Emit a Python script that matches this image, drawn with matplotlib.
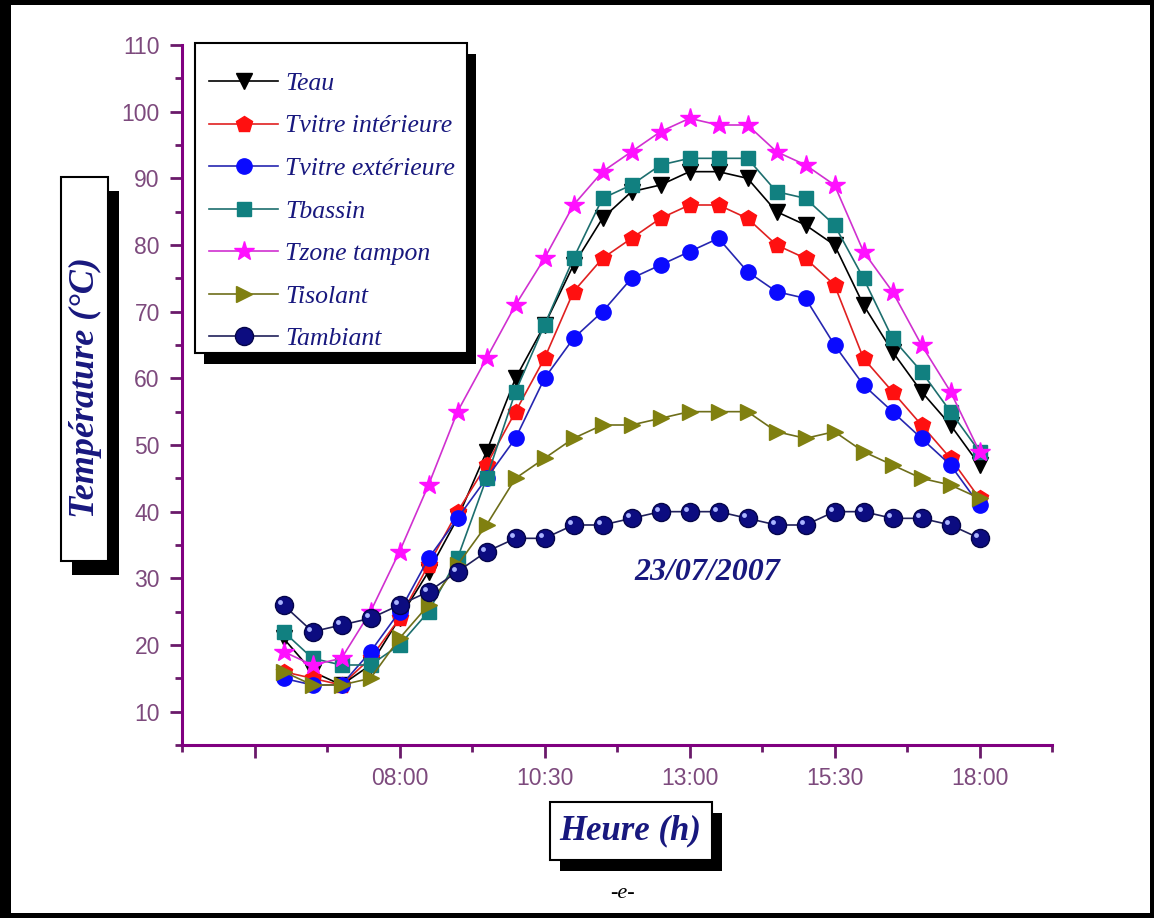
import matplotlib
matplotlib.use("Agg")
import matplotlib.pyplot as plt
from matplotlib.patches import Rectangle
from matplotlib.transforms import ScaledTranslation
from matplotlib.font_manager import FontProperties

# ---- data: temperatures recorded on 23/07/2007, every half hour ----
hours = [6.0, 6.5, 7.0, 7.5, 8.0, 8.5, 9.0, 9.5, 10.0, 10.5, 11.0, 11.5, 12.0,
         12.5, 13.0, 13.5, 14.0, 14.5, 15.0, 15.5, 16.0, 16.5, 17.0, 17.5, 18.0]

t_eau = [21, 16, 14, 17, 24, 31, 39, 49, 60, 68, 77, 84, 88,
         89, 91, 91, 90, 85, 83, 80, 71, 64, 58, 53, 47]
t_vitre_int = [16, 15, 14, 18, 24, 32, 40, 47, 55, 63, 73, 78, 81,
               84, 86, 86, 84, 80, 78, 74, 63, 58, 53, 48, 42]
t_vitre_ext = [15, 14, 14, 19, 25, 33, 39, 45, 51, 60, 66, 70, 75,
               77, 79, 81, 76, 73, 72, 65, 59, 55, 51, 47, 41]
t_bassin = [22, 18, 17, 17, 20, 25, 33, 45, 58, 68, 78, 87, 89,
            92, 93, 93, 93, 88, 87, 83, 75, 66, 61, 55, 49]
t_zone = [19, 17, 18, 25, 34, 44, 55, 63, 71, 78, 86, 91, 94,
          97, 99, 98, 98, 94, 92, 89, 79, 73, 65, 58, 49]
t_isolant = [16, 14, 14, 15, 21, 26, 32, 38, 45, 48, 51, 53, 53,
             54, 55, 55, 55, 52, 51, 52, 49, 47, 45, 44, 42]
t_ambiant = [26, 22, 23, 24, 26, 28, 31, 34, 36, 36, 38, 38, 39,
             40, 40, 40, 39, 38, 38, 40, 40, 39, 39, 38, 36]

series_labels = ["Teau", "Tvitre intérieure", "Tvitre extérieure", "Tbassin",
                 "Tzone tampon", "Tisolant", "Tambiant"]

x_major = [5.5, 8.0, 10.5, 13.0, 15.5, 18.0]
x_major_labels = ["", "08:00", "10:30", "13:00", "15:30", "18:00"]
y_major = [10, 20, 30, 40, 50, 60, 70, 80, 90, 100, 110]

# ---- figure ----
W, H = 1154, 918
fig = plt.figure(figsize=(W / 100, H / 100), dpi=100, facecolor="black")


def fig_rect(x0, y0, x1, y1, **kw):
    """Rectangle given in pixel coordinates measured from the top-left corner."""
    r = Rectangle((x0 / W, 1 - y1 / H), (x1 - x0) / W, (y1 - y0) / H,
                  transform=fig.transFigure, **kw)
    fig.add_artist(r)
    return r


# white page inside the thick black frame
fig_rect(11, 5, 1150, 913, facecolor="white", edgecolor="none", zorder=-1)

purple = "#800080"
tick_purple = "#6a1a6a"
label_purple = "#7d4a7d"
navy = "#18187e"

ax = fig.add_axes([182 / W, 1 - 745 / H, (1052 - 182) / W, (745 - 45) / H])
ax.set_facecolor("none")
ax.set_xlim(4.25, 19.25)
ax.set_ylim(5, 110)

styles = [
    dict(y=t_eau, color="black", marker="v", mfc="black", mec="black", ms=11),
    dict(y=t_vitre_int, color="#e02020", marker="p", mfc="#ff1010", mec="#ff1010", ms=12),
    dict(y=t_vitre_ext, color="#2626b0", marker="o", mfc="#0a0aff", mec="#0a0aff", ms=11),
    dict(y=t_bassin, color="#1d6e6e", marker="s", mfc="#118080", mec="#118080", ms=10),
    dict(y=t_zone, color="#d030d0", marker="*", mfc="#ff10ff", mec="#ff10ff", ms=15),
    dict(y=t_isolant, color="#6e6e1a", marker=">", mfc="#808010", mec="#808010", ms=12),
    dict(y=t_ambiant, color="#20205a", marker="o", mfc="#0c0c80", mec="#05054a", ms=13),
]

handles = []
for lab, st in zip(series_labels, styles):
    (ln,) = ax.plot(hours, st["y"], color=st["color"], lw=1.2, marker=st["marker"],
                    markerfacecolor=st["mfc"], markeredgecolor=st["mec"],
                    markersize=st["ms"], markeredgewidth=1.0, label=lab, clip_on=False)
    handles.append(ln)

# glossy highlight on the ambient-temperature spheres
shine = ax.transData + ScaledTranslation(-2.2 / 72, 2.2 / 72, fig.dpi_scale_trans)
ax.plot(hours, t_ambiant, linestyle="none", marker="o", markersize=3.5,
        markerfacecolor="#aab4ff", markeredgecolor="none", transform=shine, clip_on=False)

# ---- axes styling ----
for side in ("top", "right"):
    ax.spines[side].set_visible(False)
for side in ("left", "bottom"):
    ax.spines[side].set_color(purple)
    ax.spines[side].set_linewidth(2.2)

ax.set_xticks(x_major)
ax.set_xticklabels(x_major_labels)
ax.set_xticks([4.25, 6.75, 9.25, 11.75, 14.25, 16.75, 19.25], minor=True)
ax.set_yticks(y_major)
ax.set_yticks([5, 15, 25, 35, 45, 55, 65, 75, 85, 95, 105], minor=True)

tick_font = FontProperties(family="Liberation Sans", size=16.5)
ax.tick_params(which="major", direction="out", length=9, width=2.0, color=tick_purple,
               labelcolor=label_purple, pad=7)
ax.tick_params(which="minor", direction="out", length=5, width=2.0, color=tick_purple)
for t in ax.get_xticklabels() + ax.get_yticklabels():
    t.set_fontproperties(tick_font)

# ---- legend with drop shadow ----
fig_rect(204, 54, 476, 364, facecolor="black", edgecolor="none", zorder=3)
fig_rect(195, 43, 467, 353, facecolor="white", edgecolor="black", linewidth=1.5, zorder=4)
leg_font = FontProperties(family="Liberation Serif", style="italic", size=18.5)
leg = fig.legend(handles=handles, loc="upper left",
                 bbox_to_anchor=(209 / W, 1 - 72 / H), bbox_transform=fig.transFigure,
                 frameon=False, prop=leg_font, handlelength=2.7, handletextpad=0.27,
                 labelspacing=0.76, borderpad=0, borderaxespad=0)
leg.set_zorder(6)
for t in leg.get_texts():
    t.set_color(navy)

# ---- y-axis title box ----
fig_rect(72, 191, 119, 575, facecolor="black", edgecolor="none", zorder=3)
fig_rect(61, 177, 108, 561, facecolor="white", edgecolor="black", linewidth=1.5, zorder=4)
fig.text(85 / W, 1 - 388 / H, "Température (°C)", rotation=90, ha="center", va="center",
         family="Liberation Serif", style="italic", weight="bold", size=26, color=navy,
         zorder=5)

# ---- x-axis title box ----
fig_rect(560, 813, 722, 871, facecolor="black", edgecolor="none", zorder=3)
fig_rect(550, 802, 712, 860, facecolor="white", edgecolor="black", linewidth=1.5, zorder=4)
fig.text(630 / W, 1 - 831 / H, "Heure (h)", ha="center", va="center",
         family="Liberation Serif", style="italic", weight="bold", size=25, color=navy,
         zorder=5)

# date annotation and panel tag
ax.text(13.3, 30.8, "23/07/2007", ha="center", va="center", family="Liberation Serif",
        style="italic", weight="bold", size=23, color=navy)
fig.text(622 / W, 1 - 894 / H, "-e-", ha="center", va="center", family="Liberation Serif",
         style="italic", size=16, color="black")

fig.savefig("out.png", dpi=100, facecolor=fig.get_facecolor())
